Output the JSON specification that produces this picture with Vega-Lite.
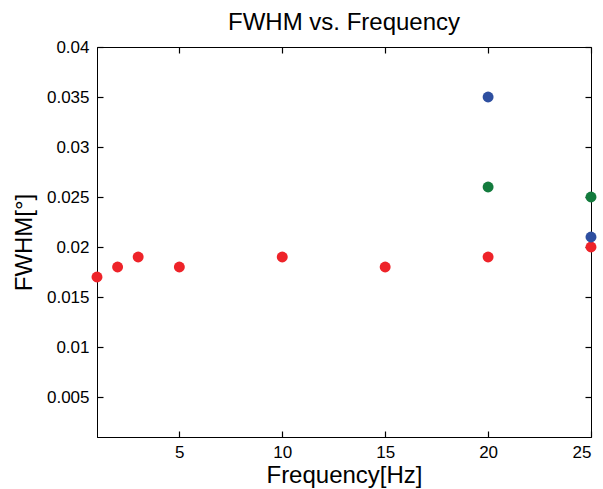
{
  "$schema": "https://vega.github.io/schema/vega-lite/v6.json",
  "width": 494,
  "height": 390,
  "autosize": {"type": "none"},
  "padding": {"left": 97, "top": 47, "right": 12, "bottom": 52},
  "background": "white",
  "config": {
    "font": "Liberation Sans",
    "view": {"stroke": "black", "strokeWidth": 1},
    "axis": {"grid": false, "domainColor": "black", "tickColor": "black", "tickWidth": 1.2, "tickOpacity": 1, "labelColor": "black", "titleColor": "black", "labelFont": "Liberation Sans", "titleFont": "Liberation Sans", "titleFontWeight": "normal", "labelFontSize": 17, "titleFontSize": 24}
  },
  "title": {"text": "FWHM vs. Frequency", "fontSize": 24, "fontWeight": "normal", "font": "Liberation Sans", "color": "black", "offset": 3},
  "data": {"values": [
    {"f": 1, "w": 0.017, "s": "red"},
    {"f": 2, "w": 0.018, "s": "red"},
    {"f": 3, "w": 0.019, "s": "red"},
    {"f": 5, "w": 0.018, "s": "red"},
    {"f": 10, "w": 0.019, "s": "red"},
    {"f": 15, "w": 0.018, "s": "red"},
    {"f": 20, "w": 0.019, "s": "red"},
    {"f": 25, "w": 0.020, "s": "red"},
    {"f": 20, "w": 0.035, "s": "blue"},
    {"f": 25, "w": 0.021, "s": "blue"},
    {"f": 20, "w": 0.026, "s": "green"},
    {"f": 25, "w": 0.025, "s": "green"}
  ]},
  "layer": [
    {
      "mark": {"type": "point", "filled": true, "opacity": 0},
      "encoding": {
        "x": {"field": "f", "type": "quantitative", "scale": {"domain": [1, 25], "nice": false, "zero": false}, "axis": {"orient": "top", "values": [5, 10, 15, 20, 25], "labels": false, "title": null, "tickSize": -6, "domain": false}},
        "y": {"field": "w", "type": "quantitative", "scale": {"domain": [0.001, 0.04], "nice": false, "zero": false}, "axis": {"orient": "right", "values": [0.005, 0.01, 0.015, 0.02, 0.025, 0.03, 0.035, 0.04], "labels": false, "title": null, "tickSize": -6, "domain": false}}
      }
    },
    {
      "mark": {"type": "circle", "size": 120, "opacity": 1, "clip": false},
      "encoding": {
        "x": {"field": "f", "type": "quantitative", "axis": {"orient": "bottom", "values": [5, 10, 15, 20, 25], "title": "Frequency[Hz]", "tickSize": -6, "labelPadding": 13, "titlePadding": 3}},
        "y": {"field": "w", "type": "quantitative", "axis": {"orient": "left", "values": [0.005, 0.01, 0.015, 0.02, 0.025, 0.03, 0.035, 0.04], "format": "~g", "title": "FWHM[°]", "tickSize": -6, "labelPadding": 14, "titlePadding": 10, "labelFlush": false}},
        "color": {"field": "s", "type": "nominal", "scale": {"domain": ["red", "blue", "green"], "range": ["#ee2329", "#2e4fa0", "#137b3d"]}, "legend": null}
      }
    }
  ],
  "resolve": {"axis": {"x": "independent", "y": "independent"}}
}
